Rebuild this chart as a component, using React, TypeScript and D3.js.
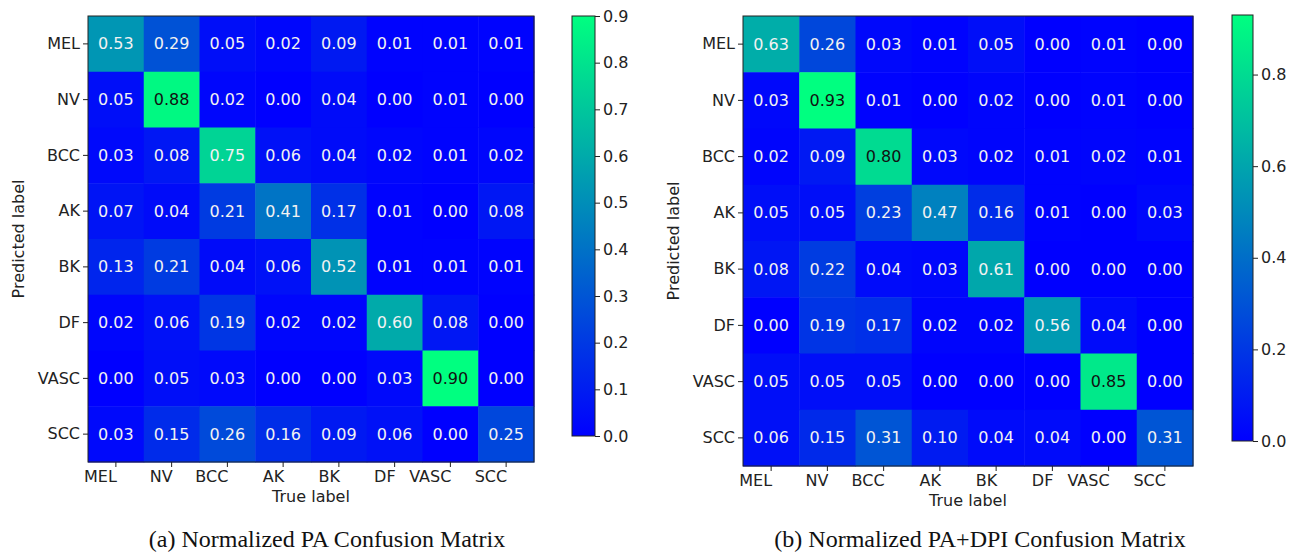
import React, { useRef, useEffect } from "react";
import * as d3 from "d3";

const labels = ["MEL", "NV", "BCC", "AK", "BK", "DF", "VASC", "SCC"];

const paMatrix = [
  [0.53, 0.29, 0.05, 0.02, 0.09, 0.01, 0.01, 0.01],
  [0.05, 0.88, 0.02, 0.0, 0.04, 0.0, 0.01, 0.0],
  [0.03, 0.08, 0.75, 0.06, 0.04, 0.02, 0.01, 0.02],
  [0.07, 0.04, 0.21, 0.41, 0.17, 0.01, 0.0, 0.08],
  [0.13, 0.21, 0.04, 0.06, 0.52, 0.01, 0.01, 0.01],
  [0.02, 0.06, 0.19, 0.02, 0.02, 0.6, 0.08, 0.0],
  [0.0, 0.05, 0.03, 0.0, 0.0, 0.03, 0.9, 0.0],
  [0.03, 0.15, 0.26, 0.16, 0.09, 0.06, 0.0, 0.25],
];

const paDpiMatrix = [
  [0.63, 0.26, 0.03, 0.01, 0.05, 0.0, 0.01, 0.0],
  [0.03, 0.93, 0.01, 0.0, 0.02, 0.0, 0.01, 0.0],
  [0.02, 0.09, 0.8, 0.03, 0.02, 0.01, 0.02, 0.01],
  [0.05, 0.05, 0.23, 0.47, 0.16, 0.01, 0.0, 0.03],
  [0.08, 0.22, 0.04, 0.03, 0.61, 0.0, 0.0, 0.0],
  [0.0, 0.19, 0.17, 0.02, 0.02, 0.56, 0.04, 0.0],
  [0.05, 0.05, 0.05, 0.0, 0.0, 0.0, 0.85, 0.0],
  [0.06, 0.15, 0.31, 0.1, 0.04, 0.04, 0.0, 0.31],
];

const paTicks = [0, 0.1, 0.2, 0.3, 0.4, 0.5, 0.6, 0.7, 0.8, 0.9];
const paDpiTicks = [0, 0.2, 0.4, 0.6, 0.8];

const captions = [
  "(a) Normalized PA Confusion Matrix",
  "(b) Normalized PA+DPI Confusion Matrix",
];

// matplotlib "winter": blue -> spring green
const winter = (t: number) =>
  d3.rgb(0, 255 * t, 255 * (1 - 0.5 * t)).formatHex();

const FONT = "'DejaVu Sans', sans-serif";

const panels = [
  {
    id: "a",
    data: paMatrix,
    vmax: 0.9,
    ticks: paTicks,
    caption: captions[0],
    x: 88, y: 16, size: 446,
    cbX: 572, cbW: 23, cbTop: 16, cbBottom: 436,
    capX: 327,
  },
  {
    id: "b",
    data: paDpiMatrix,
    vmax: 0.93,
    ticks: paDpiTicks,
    caption: captions[1],
    x: 743, y: 16, size: 450,
    cbX: 1232, cbW: 21, cbTop: 15, cbBottom: 441,
    capX: 980,
  },
];

const App = () => {
  const ref = useRef<SVGSVGElement>(null);

  useEffect(() => {
    const svg = d3.select(ref.current);
    svg.selectAll("*").remove();
    const defs = svg.append("defs");

    panels.forEach((p) => {
      const g = svg.append("g");
      const x = d3.scaleBand().domain(labels).range([p.x, p.x + p.size]);
      const y = d3.scaleBand().domain(labels).range([p.y, p.y + p.size]);
      const color = (v: number) => winter(Math.min(1, v / p.vmax));

      const cells = p.data.flatMap((row, i) =>
        row.map((v, j) => ({ v, r: labels[i], c: labels[j] }))
      );

      g.selectAll("rect.cell")
        .data(cells)
        .join("rect")
        .attr("class", "cell")
        .attr("x", (d) => x(d.c)!)
        .attr("y", (d) => y(d.r)!)
        .attr("width", x.bandwidth() + 0.5)
        .attr("height", y.bandwidth() + 0.5)
        .attr("fill", (d) => color(d.v));

      g.selectAll("text.val")
        .data(cells)
        .join("text")
        .attr("class", "val")
        .attr("x", (d) => x(d.c)! + x.bandwidth() / 2)
        .attr("y", (d) => y(d.r)! + y.bandwidth() / 2)
        .attr("text-anchor", "middle")
        .attr("dominant-baseline", "central")
        .attr("font-family", FONT)
        .attr("font-size", 16)
        .attr("fill", (d) => (d.v > 0.78 ? "#111" : "#f2f2f2"))
        .text((d) => d.v.toFixed(2));

      // frame
      g.append("rect")
        .attr("x", p.x)
        .attr("y", p.y)
        .attr("width", p.size)
        .attr("height", p.size)
        .attr("fill", "none")
        .attr("stroke", "#222")
        .attr("stroke-width", 1);

      // y axis
      const ya = g
        .append("g")
        .attr("transform", `translate(${p.x},0)`)
        .call(d3.axisLeft(y).tickSize(5).tickPadding(3));
      ya.select(".domain").remove();
      ya.selectAll("line").attr("stroke", "#222");
      ya.selectAll("text")
        .attr("font-family", FONT)
        .attr("font-size", 16)
        .attr("fill", "#222");

      // x axis, labels right-aligned to the tick
      const xa = g
        .append("g")
        .attr("transform", `translate(0,${p.y + p.size})`)
        .call(d3.axisBottom(x).tickSize(5).tickPadding(4));
      xa.select(".domain").remove();
      xa.selectAll("line").attr("stroke", "#222");
      xa.selectAll("text")
        .attr("font-family", FONT)
        .attr("font-size", 16)
        .attr("fill", "#222")
        .attr("text-anchor", "end")
        .attr("dx", 1);

      g.append("text")
        .attr("x", p.x + p.size / 2)
        .attr("y", p.y + p.size + 40)
        .attr("text-anchor", "middle")
        .attr("font-family", FONT)
        .attr("font-size", 16)
        .attr("fill", "#222")
        .text("True label");

      g.append("text")
        .attr("transform", `translate(${p.x - 64},${p.y + p.size / 2}) rotate(-90)`)
        .attr("text-anchor", "middle")
        .attr("font-family", FONT)
        .attr("font-size", 16)
        .attr("fill", "#222")
        .text("Predicted label");

      // colorbar
      const gradId = `grad-${p.id}`;
      const grad = defs
        .append("linearGradient")
        .attr("id", gradId)
        .attr("x1", 0)
        .attr("y1", 1)
        .attr("x2", 0)
        .attr("y2", 0);
      d3.range(0, 1.0001, 0.1).forEach((t) => {
        grad
          .append("stop")
          .attr("offset", t)
          .attr("stop-color", winter(t));
      });
      g.append("rect")
        .attr("x", p.cbX)
        .attr("y", p.cbTop)
        .attr("width", p.cbW)
        .attr("height", p.cbBottom - p.cbTop)
        .attr("fill", `url(#${gradId})`)
        .attr("stroke", "#222")
        .attr("stroke-width", 1);

      const cScale = d3
        .scaleLinear()
        .domain([0, p.vmax])
        .range([p.cbBottom, p.cbTop]);
      const ca = g
        .append("g")
        .attr("transform", `translate(${p.cbX + p.cbW},0)`)
        .call(
          d3
            .axisRight(cScale)
            .tickValues(p.ticks)
            .tickFormat(d3.format(".1f"))
            .tickSize(5)
            .tickPadding(3)
        );
      ca.select(".domain").remove();
      ca.selectAll("line").attr("stroke", "#222");
      ca.selectAll("text")
        .attr("font-family", FONT)
        .attr("font-size", 16)
        .attr("fill", "#222");

      // caption
      g.append("text")
        .attr("x", p.capX)
        .attr("y", 547)
        .attr("text-anchor", "middle")
        .attr("font-family", "'Liberation Serif', 'Times New Roman', serif")
        .attr("font-size", 24)
        .attr("fill", "#111")
        .text(p.caption);
    });
  }, []);

  return (
    <svg
      ref={ref}
      width={1289}
      height={553}
      style={{ position: "absolute", left: 0, top: 0, background: "#fff" }}
    ></svg>
  );
};

export default App;
